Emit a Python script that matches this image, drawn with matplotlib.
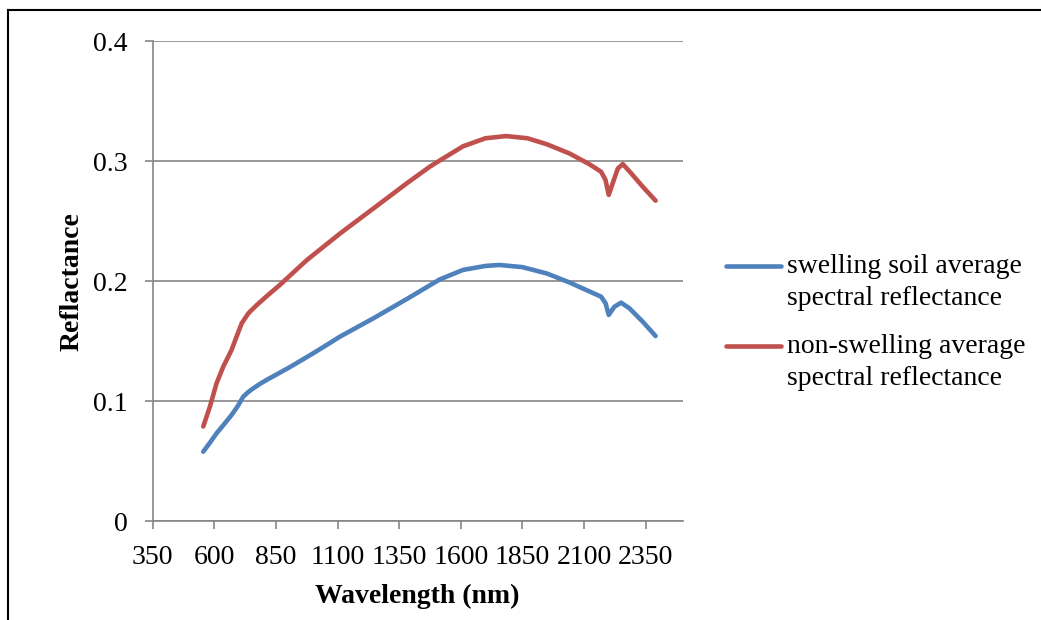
import numpy as np
import matplotlib.pyplot as plt
from matplotlib.lines import Line2D

plt.rcParams['font.family'] = ['Liberation Serif', 'DejaVu Serif']

# average spectra of the two soil groups
wl_swell = [555, 582, 609, 640, 670, 695, 717, 738, 758, 785, 812, 860, 909,
            1001, 1068, 1109, 1244, 1379, 1514, 1609, 1700, 1757, 1850, 1949,
            2041, 2108, 2169, 2187, 2200, 2223, 2250, 2284, 2338, 2390]
r_swell = [0.058, 0.0655, 0.0733, 0.081, 0.0886, 0.096, 0.1038, 0.1078, 0.1108,
           0.1145, 0.1178, 0.1232, 0.1288, 0.14, 0.1485, 0.1538, 0.169, 0.185,
           0.2015, 0.2095, 0.2128, 0.2136, 0.2118, 0.2065, 0.199, 0.1928, 0.1872,
           0.1817, 0.172, 0.1788, 0.1822, 0.1775, 0.1663, 0.1544]

wl_nonswell = [555, 582, 609, 636, 670, 690, 711, 738, 771, 818, 866, 933, 976,
               1111, 1246, 1381, 1474, 1517, 1609, 1700, 1784, 1870, 1949, 2041,
               2122, 2169, 2187, 2200, 2216, 2237, 2257, 2291, 2338, 2390]
r_nonswell = [0.079, 0.0955, 0.115, 0.1288, 0.1428, 0.1538, 0.165, 0.1733, 0.18,
              0.1886, 0.197, 0.2097, 0.2178, 0.24, 0.2608, 0.2817, 0.2955, 0.301,
              0.3125, 0.3192, 0.321, 0.3192, 0.3142, 0.3065, 0.2975, 0.2913, 0.2844,
              0.272, 0.2817, 0.294, 0.2977, 0.29, 0.2788, 0.2672]

labels = ['swelling soil average\nspectral reflectance',
          'non-swelling average\nspectral reflectance']
colors = ['#4F81BD', '#C0504D']

fig = plt.figure(figsize=(10.41, 6.2), dpi=100)
ax = fig.add_axes([0.1467, 0.1592, 0.5091, 0.7742])

ax.plot(wl_swell, r_swell, color=colors[0], lw=3.3, solid_capstyle='round',
        solid_joinstyle='round', label=labels[0])
ax.plot(wl_nonswell, r_nonswell, color=colors[1], lw=3.3, solid_capstyle='round',
        solid_joinstyle='round', label=labels[1])

ax.set_xlim(350, 2500)
ax.set_ylim(0, 0.4)
ax.set_xticks(np.arange(350, 2500, 250))
ax.set_yticks([0, 0.1, 0.2, 0.3, 0.4])
ax.set_yticklabels(['0', '0.1', '0.2', '0.3', '0.4'])

grey = '#868686'
ax.grid(axis='y', color=grey, lw=1.2)
ax.set_axisbelow(True)
for s in ['top', 'right']:
    ax.spines[s].set_visible(False)
for s in ['left', 'bottom']:
    ax.spines[s].set_color(grey)
    ax.spines[s].set_linewidth(1.2)
ax.tick_params(axis='both', direction='out', length=6, width=1.2, color=grey,
               labelsize=20)
ax.tick_params(axis='x', pad=11)
ax.tick_params(axis='y', pad=12)

ax.set_xlabel('Wavelength (nm)', fontsize=20, fontweight='bold')
ax.set_ylabel('Reflactance', fontsize=20, fontweight='bold')
ax.xaxis.set_label_coords(0.5, -0.156)
ax.xaxis.label.set_verticalalignment('center')
ax.yaxis.set_label_coords(-0.152, 0.5)
ax.yaxis.label.set_verticalalignment('center')

leg = fig.legend(loc='upper left', bbox_to_anchor=(0.697, 0.59), frameon=False,
                 fontsize=20, handlelength=2.0, handletextpad=0.2,
                 labelspacing=0.85, borderpad=0, borderaxespad=0)
for t in leg.get_texts():
    t.set_linespacing(1.35)
# keep each legend line level with the first row of its label
for h in leg.get_lines():
    h.set_linewidth(3.3)
    h.set_solid_capstyle('round')
    h.set_ydata(np.asarray(h.get_ydata()) + 12)

# outer frame, only top and left edges show
fig.add_artist(Line2D([0.0077, 1.0], [0.9831, 0.9831], color='black', lw=1.5))
fig.add_artist(Line2D([0.0077, 0.0077], [0.0, 0.9831], color='black', lw=1.5))

fig.savefig('out.png', dpi=100)
